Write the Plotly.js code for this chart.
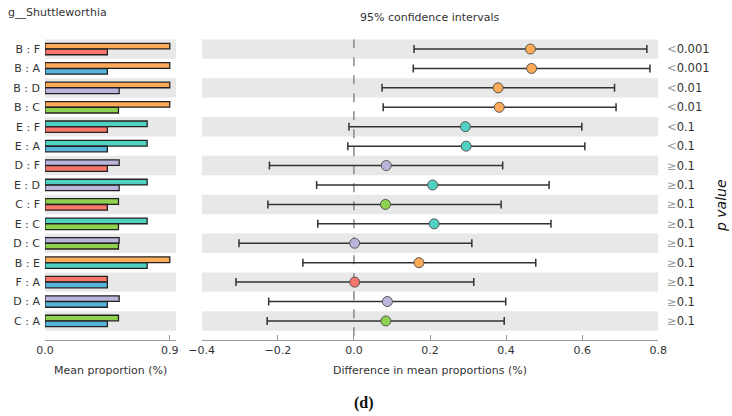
<!DOCTYPE html>
<html>
<head>
<meta charset="utf-8">
<script src="https://cdn.plot.ly/plotly-3.0.1.min.js"></script>
<style>html,body{margin:0;padding:0;background:#fff}#chart{width:732px;height:416px}</style>
</head>
<body>
<div id="chart"></div>
<script>
// ---- data ----
const groupNames = ['A', 'B', 'C', 'D', 'E', 'F'];
const groupMeans = [0.45, 0.90, 0.53, 0.535, 0.737, 0.45];
const rowLabels = ['B : F','B : A','B : D','B : C','E : F','E : A','D : F','E : D','C : F','E : C','D : C','B : E','F : A','D : A','C : A'];
const firstGroup  = ['B','B','B','B','E','E','D','E','C','E','D','B','F','D','C'];
const secondGroup = ['F','A','D','C','F','A','F','D','F','C','C','E','A','A','A'];
const diffMean = [0.464, 0.467, 0.379, 0.382, 0.293, 0.295, 0.085, 0.207, 0.083, 0.211, 0.002, 0.171, 0.002, 0.088, 0.084];
const ciLow    = [0.158, 0.156, 0.074, 0.077, -0.013, -0.016, -0.222, -0.098, -0.226, -0.095, -0.302, -0.134, -0.310, -0.224, -0.228];
const ciHigh   = [0.770, 0.778, 0.685, 0.689, 0.599, 0.607, 0.391, 0.513, 0.387, 0.518, 0.310, 0.478, 0.315, 0.399, 0.395];
const pLabels  = ['<0.001','<0.001','<0.01','<0.01','<0.1','<0.1','≥0.1','≥0.1','≥0.1','≥0.1','≥0.1','≥0.1','≥0.1','≥0.1','≥0.1'];
const leftTicks = [0, 0.9];
const leftTickText = ['0.0', '0.9'];
const rightTicks = [-0.4, -0.2, 0, 0.2, 0.4, 0.6, 0.8];
const rightTickText = ['\u22120.4', '\u22120.2', '0.0', '0.2', '0.4', '0.6', '0.8'];

// ---- style ----
const groupColors = {A:'#58b3d8', B:'#fdab58', C:'#8fd24f', D:'#bbb5dc', E:'#4fd2c2', F:'#f8766b'};
const FONT = 'DejaVu Sans, sans-serif';
const W = 732, H = 416;
const yDom = [1 - 340/H, 1 - 39.3/H];
const yRange = [14.98, -0.5];
const xDomL = [45/W, 176/W];
const xDomR = [201.7/W, 658.3/W];

const idx = rowLabels.map((_, i) => i);
const meanOf = g => groupMeans[groupNames.indexOf(g)];

const traces = [
  {type:'bar', orientation:'h', xaxis:'x', yaxis:'y', y: idx, x: firstGroup.map(meanOf),
   width: 0.29, offset: -0.295,
   marker:{color: firstGroup.map(g => groupColors[g]), line:{color:'#222', width:1.3}},
   hoverinfo:'skip', showlegend:false},
  {type:'bar', orientation:'h', xaxis:'x', yaxis:'y', y: idx, x: secondGroup.map(meanOf),
   width: 0.29, offset: 0.005,
   marker:{color: secondGroup.map(g => groupColors[g]), line:{color:'#222', width:1.3}},
   hoverinfo:'skip', showlegend:false},
  {type:'scatter', mode:'markers', xaxis:'x2', yaxis:'y', y: idx, x: diffMean,
   error_x:{type:'data', symmetric:false,
            array: ciHigh.map((h, i) => h - diffMean[i]),
            arrayminus: ciLow.map((l, i) => diffMean[i] - l),
            color:'#333', thickness:1.5, width:4},
   marker:{size:10, color: firstGroup.map(g => groupColors[g]), line:{color:'#555', width:1}},
   hoverinfo:'skip', showlegend:false}
];

const shapes = [];
idx.forEach(i => {
  if (i % 2 === 0) {
    shapes.push({type:'rect', layer:'below', xref:'x', yref:'y', x0:0, x1:0.945, y0:i-0.5, y1:i+0.5,
                 fillcolor:'#e8e8e8', line:{width:0}});
    shapes.push({type:'rect', layer:'below', xref:'x2', yref:'y', x0:-0.4, x1:0.8, y0:i-0.5, y1:i+0.5,
                 fillcolor:'#e8e8e8', line:{width:0}});
  }
});
shapes.push({type:'line', layer:'below', xref:'x2', yref:'y', x0:0, x1:0, y0:yRange[1], y1:yRange[0],
             line:{color:'#888', width:1.5, dash:'dash'}});

const annotations = [
  {text:'g__Shuttleworthia', xref:'paper', yref:'paper', x:6/W, y:1-12/H, xanchor:'left', yanchor:'middle',
   showarrow:false, font:{family:FONT, size:11, color:'#333'}},
  {text:'95% confidence intervals', xref:'paper', yref:'paper', x:430/W, y:1-17.5/H, xanchor:'center', yanchor:'middle',
   showarrow:false, font:{family:FONT, size:11, color:'#333'}},
  {text:'Mean proportion (%)', xref:'paper', yref:'paper', x:110.5/W, y:1-370/H, xanchor:'center', yanchor:'middle',
   showarrow:false, font:{family:FONT, size:11, color:'#333'}},
  {text:'Difference in mean proportions (%)', xref:'paper', yref:'paper', x:430/W, y:1-370/H, xanchor:'center', yanchor:'middle',
   showarrow:false, font:{family:FONT, size:11, color:'#333'}},
  {text:'<b>(d)</b>', xref:'paper', yref:'paper', x:364/W, y:1-403/H, xanchor:'center', yanchor:'middle',
   showarrow:false, font:{family:'Liberation Serif, serif', size:16, color:'#111'}},
  {text:'<i>p value</i>', xref:'paper', yref:'paper', x:721/W, y:1-206/H, xanchor:'center', yanchor:'middle',
   textangle:-90, showarrow:false, font:{family:FONT, size:14, color:'#111'}}
];
pLabels.forEach((p, i) => {
  const sym = p.charAt(0);
  const rest = p.slice(1);
  const symTxt = sym === '<' ? '&lt;' : sym;
  annotations.push({text:'<span style="color:#999">' + symTxt + '</span>' + rest,
    xref:'paper', yref:'y', x:665/W, y:i, xanchor:'left', yanchor:'middle', showarrow:false,
    font:{family:FONT, size:11.5, color:'#333'}});
});

const axisCommon = {showgrid:false, zeroline:false, showline:true, linecolor:'#999', linewidth:1,
  ticks:'inside', ticklen:5, tickcolor:'#999', tickwidth:1,
  tickfont:{family:FONT, size:11, color:'#333'}, fixedrange:true};

const layout = {
  width:W, height:H, margin:{l:0, r:0, t:0, b:0},
  paper_bgcolor:'#fff', plot_bgcolor:'rgba(0,0,0,0)',
  barmode:'overlay', showlegend:false,
  xaxis: Object.assign({}, axisCommon, {domain:xDomL, range:[0, 0.945], tickvals:leftTicks, ticktext:leftTickText, anchor:'y'}),
  xaxis2: Object.assign({}, axisCommon, {domain:xDomR, range:[-0.4, 0.8], tickvals:rightTicks, ticktext:rightTickText, anchor:'y'}),
  yaxis: {domain:yDom, range:yRange, tickvals:idx, ticktext:rowLabels, showgrid:false, zeroline:false,
          showline:false, ticks:'', ticklabelstandoff:4, tickfont:{family:FONT, size:11, color:'#333'}, fixedrange:true},
  shapes: shapes,
  annotations: annotations
};

Plotly.newPlot('chart', traces, layout, {staticPlot:true, displayModeBar:false});
</script>
</body>
</html>
